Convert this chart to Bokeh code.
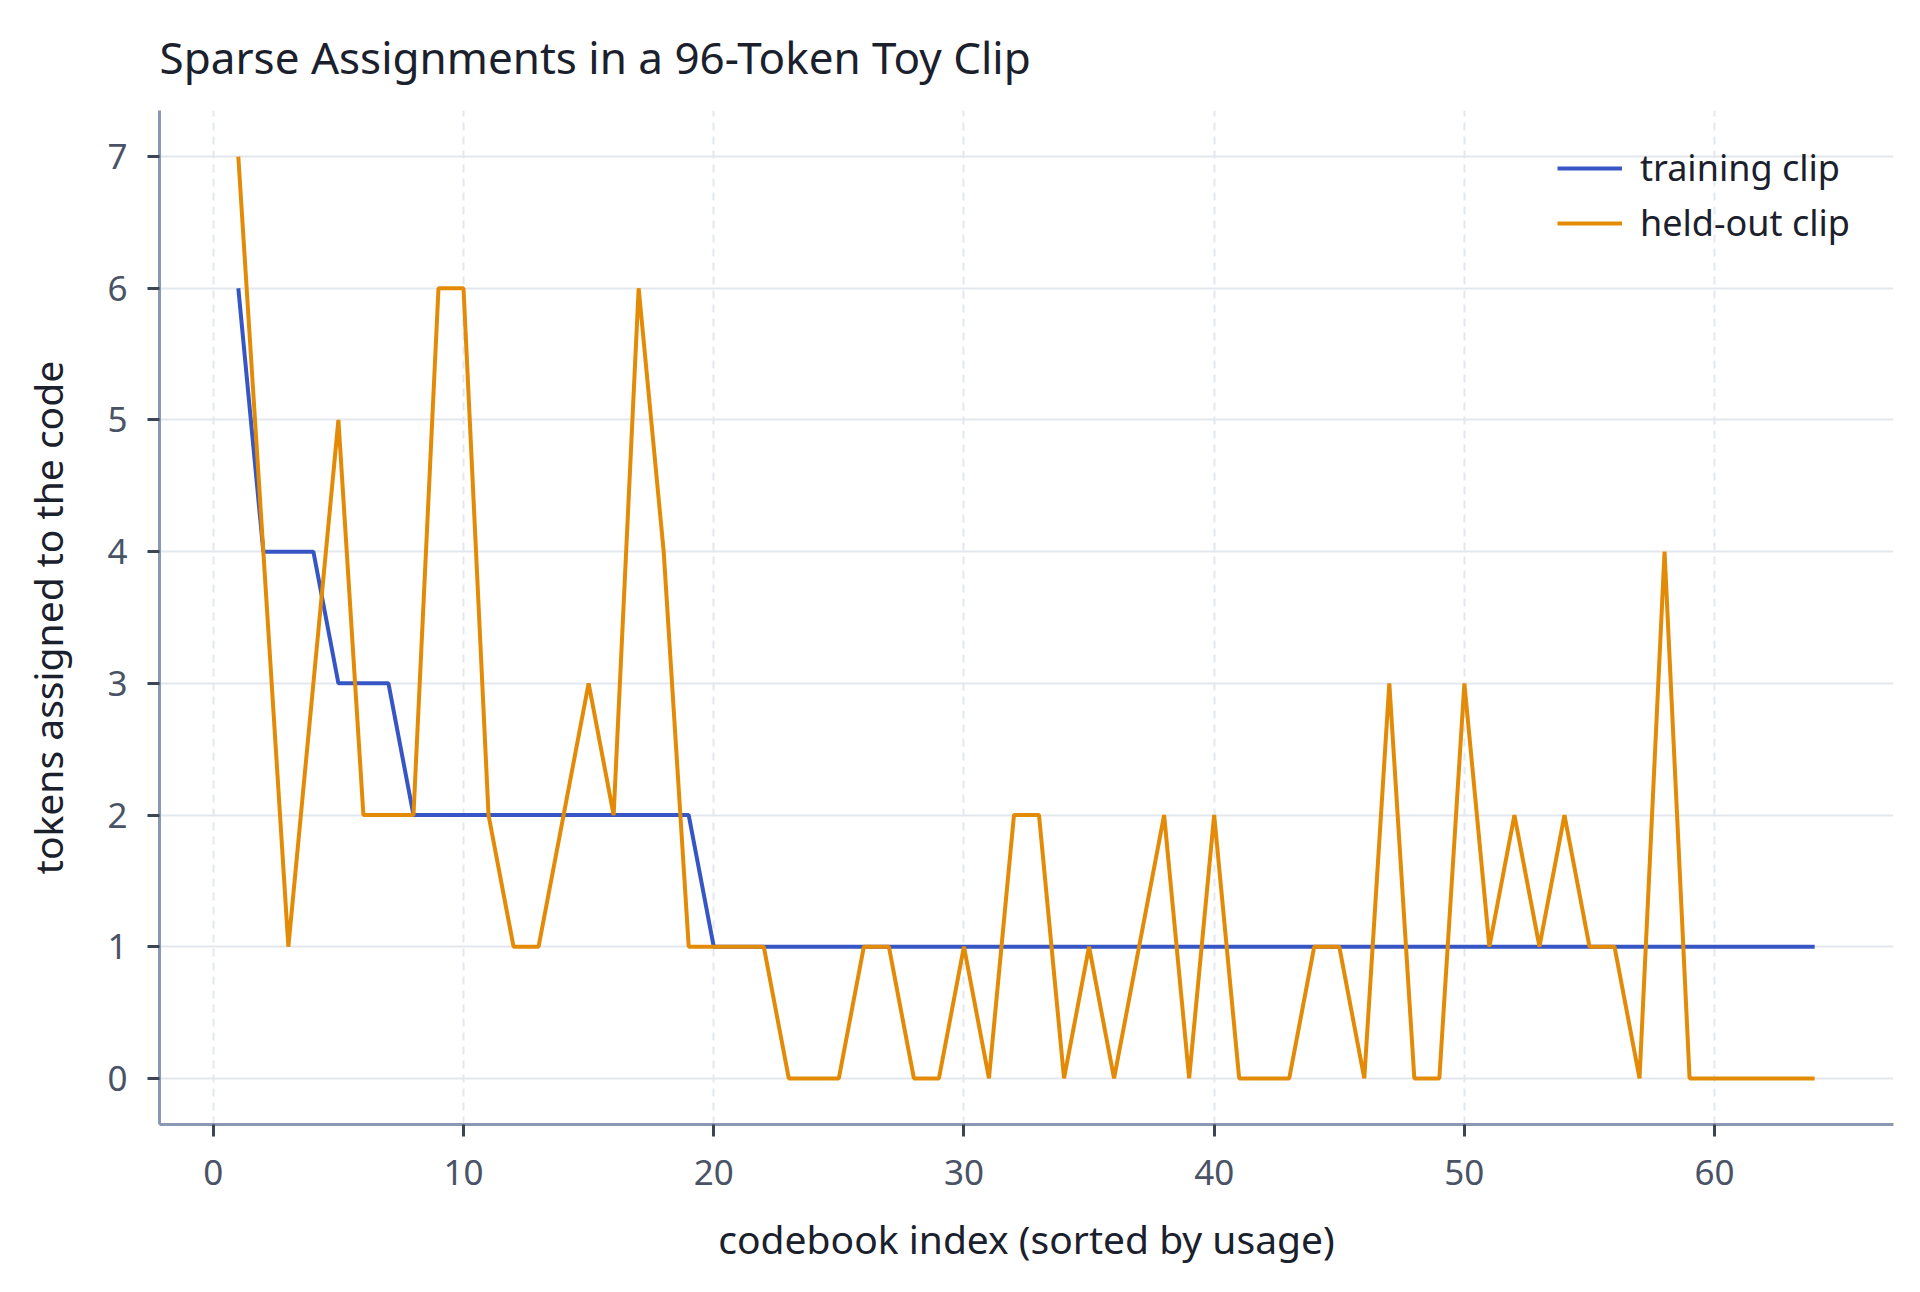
import numpy as np
from bokeh.plotting import figure
from bokeh.models import FixedTicker, Range1d
from bokeh.embed import file_html
from bokeh.resources import INLINE


code_index = list(range(1, 65))

# tokens per code, training clip (sorted by usage)
training = [6, 4, 4, 4, 3, 3, 3] + [2] * 12 + [1] * 45

# same codes, held-out clip
held_out = [7, 4, 1, 3, 5, 2, 2, 2, 6, 6, 2, 1, 1, 2, 3, 2, 6, 4, 1, 1,
            1, 1, 0, 0, 0, 1, 1, 0, 0, 1, 0, 2, 2, 0, 1, 0, 1, 2, 0, 2,
            0, 0, 0, 1, 1, 0, 3, 0, 0, 3, 1, 2, 1, 2, 1, 1, 0, 4, 0, 0,
            0, 0, 0, 0]

x_ticks = [0, 10, 20, 30, 40, 50, 60]
y_ticks = [0, 1, 2, 3, 4, 5, 6, 7]

FONT = "Noto Sans"
BLUE = "#3756c6"
ORANGE = "#e38b06"

p = figure(width=1904, height=1276, output_backend="svg", toolbar_location=None,
           title="Sparse Assignments in a 96-Token Toy Clip",
           x_axis_label="codebook index (sorted by usage)",
           y_axis_label="tokens assigned to the code",
           min_border_left=159, min_border_right=11, min_border_top=109, min_border_bottom=152)

p.x_range = Range1d(-2.15, 67.15)
p.y_range = Range1d(-0.35, 7.35)

p.line(code_index, training, color=BLUE, line_width=4, legend_label="training clip")
p.line(code_index, held_out, color=ORANGE, line_width=4, legend_label="held-out clip")

p.outline_line_color = None
p.background_fill_color = "white"
p.border_fill_color = "white"

p.title.text_font = FONT
p.title.text_font_size = "44px"
p.title.text_font_style = "normal"
p.title.text_color = "#1a202c"
p.title.standoff = 48

for ax in (p.xaxis[0], p.yaxis[0]):
    ax.axis_line_color = "#8a99b3"
    ax.axis_line_width = 3
    ax.major_tick_line_color = "#3c4556"
    ax.major_tick_line_width = 3
    ax.major_tick_out = 12
    ax.major_tick_in = 0
    ax.minor_tick_line_color = None
    ax.major_label_text_font = FONT
    ax.major_label_text_font_size = "35px"
    ax.major_label_text_color = "#4a5366"
    ax.axis_label_text_font = FONT
    ax.axis_label_text_font_size = "39px"
    ax.axis_label_text_font_style = "normal"
    ax.axis_label_text_color = "#1a202c"

p.xaxis.ticker = FixedTicker(ticks=x_ticks)
p.yaxis.ticker = FixedTicker(ticks=y_ticks)
p.xaxis.major_label_standoff = 23
p.yaxis.major_label_standoff = 20
p.xaxis.axis_label_standoff = 24
p.yaxis.axis_label_standoff = 30

p.ygrid.grid_line_color = "#e3e8ee"
p.ygrid.grid_line_width = 2
p.xgrid.grid_line_color = "#e3e8ee"
p.xgrid.grid_line_width = 2
p.xgrid.grid_line_dash = "8 6"

p.legend.location = "top_right"
p.legend.background_fill_alpha = 0
p.legend.border_line_color = None
p.legend.label_text_font = FONT
p.legend.label_text_font_size = "36px"
p.legend.label_text_color = "#1a202c"
p.legend.glyph_width = 65
p.legend.glyph_height = 30
p.legend.label_standoff = 18
p.legend.label_width = 220
p.legend.spacing = 6
p.legend.margin = 33
p.legend.padding = 6

open("out.html", "w").write(file_html(p, INLINE))
